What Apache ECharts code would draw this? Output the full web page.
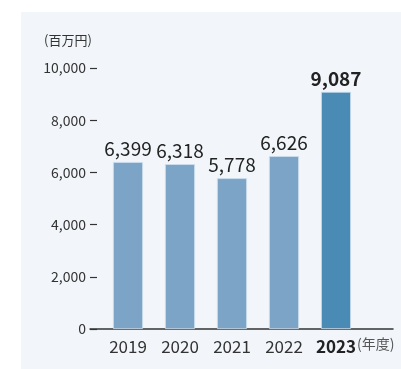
<!DOCTYPE html>
<html><head><meta charset="utf-8">
<script src="https://cdn.jsdelivr.net/npm/echarts@6/dist/echarts.min.js"></script>
<style>html,body{margin:0;padding:0;background:#fff}#c{width:401px;height:369px}</style>
</head><body><div id="c"></div>
<script>
const categories = ['2019', '2020', '2021', '2022', '2023'];
const values = [6399, 6318, 5778, 6626, 9087];
const yTicks = [0, 2000, 4000, 6000, 8000, 10000];
const unitLabel = '(百万円)';
const xUnitLabel = '(年度)';

const FONT = '"Noto Sans CJK JP", "Noto Sans", sans-serif';
const chart = echarts.init(document.getElementById('c'), null, {renderer: 'canvas'});
const fmt = v => v.toLocaleString('en-US');
chart.setOption({
  backgroundColor: '#ffffff',
  animation: false,
  graphic: [
    {type: 'rect', left: 21, top: 12, shape: {width: 380, height: 357}, style: {fill: '#f2f6fa'}, z: -10},
    {type: 'text', left: 44, top: 34, style: {text: unitLabel, font: '13px ' + FONT, fill: '#333'}},
    {type: 'text', left: 357, top: 337, style: {text: xUnitLabel, font: '14px ' + FONT, fill: '#555'}}
  ],
  grid: [
    {left: 90, right: 8, top: 68, bottom: 40},
    {left: 102, width: 260, top: 68, bottom: 40}
  ],
  xAxis: [
    {gridIndex: 0, type: 'value', min: 0, max: 1, show: true,
     axisLine: {show: true, lineStyle: {color: '#333', width: 1.5}},
     axisTick: {show: false}, axisLabel: {show: false}, splitLine: {show: false}},
    {gridIndex: 1, type: 'category', data: categories,
     axisLine: {show: false}, axisTick: {show: false},
     axisLabel: {interval: 0, margin: 9, fontSize: 17, fontFamily: FONT, color: '#333',
       rich: {b: {fontWeight: 'bold', fontSize: 17, fontFamily: FONT, color: '#222'}},
       formatter: (v, i) => i === categories.length - 1 ? '{b|' + v + '}' : v}}
  ],
  yAxis: [
    {gridIndex: 0, type: 'value', min: yTicks[0], max: yTicks[yTicks.length - 1], interval: 2000,
     axisLine: {show: false},
     axisTick: {show: true, inside: true, length: 7, lineStyle: {color: '#333', width: 1.2}},
     axisLabel: {margin: 4, fontSize: 14, fontFamily: FONT, color: '#333', formatter: v => fmt(v)},
     splitLine: {show: false}},
    {gridIndex: 1, type: 'value', min: yTicks[0], max: yTicks[yTicks.length - 1], show: false}
  ],
  series: [{
    type: 'bar', xAxisIndex: 1, yAxisIndex: 1, barWidth: 30,
    data: values.map((v, i) => ({
      value: v,
      itemStyle: {color: i === values.length - 1 ? '#4a8bb5' : '#7ba4c6', borderColor: '#cfe0ee', borderWidth: 0.8},
      label: i === values.length - 1 ? {fontWeight: 'bold'} : {}
    })),
    label: {show: true, position: 'top', distance: 4, fontSize: 19, fontFamily: FONT, color: '#222',
      formatter: p => fmt(p.value)}
  }]
});
</script></body></html>
